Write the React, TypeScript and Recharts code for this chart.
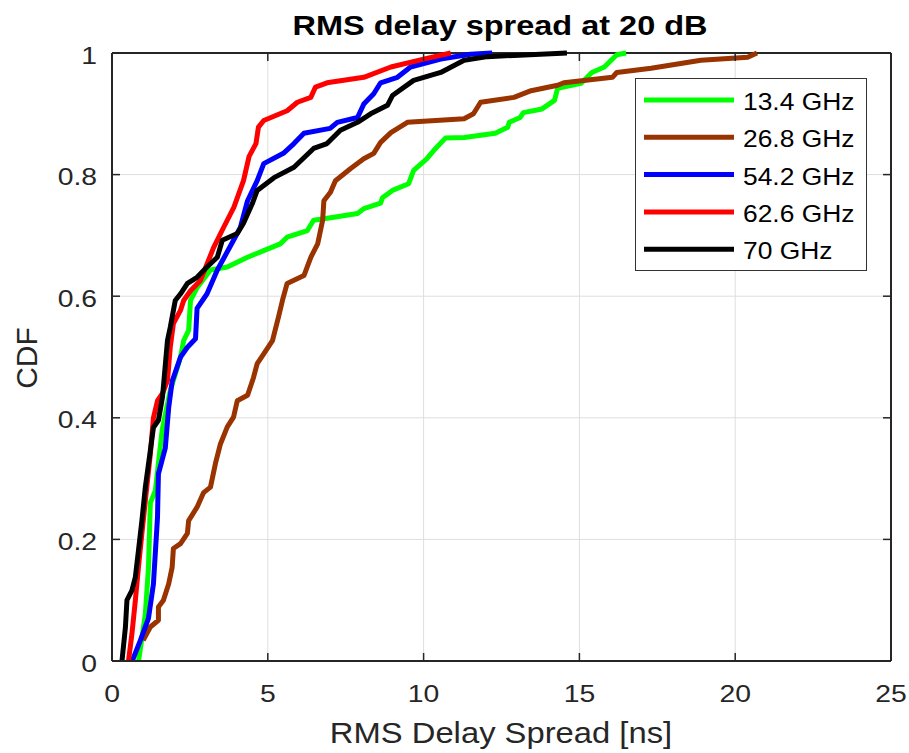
import React from 'react';
import {
  LineChart,
  Line,
  XAxis,
  YAxis,
  CartesianGrid,
  ReferenceLine,
  Legend,
} from 'recharts';

// RMS delay spread CDFs, one (x, y) list per carrier frequency
const ghz134X = [0.85, 0.91, 1.07, 1.17, 1.23, 1.39, 1.61, 1.87, 2.2, 2.3, 2.46, 2.52, 2.73, 3.16, 3.7, 4.35, 4.87, 5.4, 5.62, 6.27, 6.47, 7.12, 7.88, 8.08, 8.62, 8.68, 9.0, 9.52, 9.68, 10.1, 10.33, 10.7, 11.3, 12.3, 12.7, 12.75, 13.1, 13.2, 13.8, 14.2, 14.3, 15.05, 15.4, 15.8, 16.2, 16.5];
const ghz134Y = [0, 0.02, 0.077, 0.153, 0.26, 0.28, 0.38, 0.445, 0.5, 0.527, 0.544, 0.593, 0.614, 0.643, 0.648, 0.664, 0.675, 0.686, 0.697, 0.708, 0.725, 0.73, 0.736, 0.744, 0.753, 0.762, 0.774, 0.785, 0.807, 0.826, 0.84, 0.86, 0.861, 0.868, 0.878, 0.886, 0.894, 0.902, 0.908, 0.922, 0.942, 0.95, 0.968, 0.977, 0.997, 1.0];

const ghz268X = [1.0, 1.23, 1.49, 1.49, 1.65, 1.82, 1.93, 1.97, 2.2, 2.42, 2.46, 2.73, 2.94, 3.16, 3.32, 3.48, 3.7, 3.9, 4.02, 4.35, 4.54, 4.66, 4.87, 5.15, 5.34, 5.47, 5.62, 6.16, 6.38, 6.6, 6.76, 6.8, 7.01, 7.17, 7.66, 8.08, 8.4, 8.62, 8.95, 9.48, 11.3, 11.6, 11.83, 12.9, 13.45, 14.3, 14.5, 16.06, 16.2, 17.3, 18.9, 20.4, 20.7];
const ghz268Y = [0.034, 0.056, 0.067, 0.089, 0.1, 0.127, 0.154, 0.185, 0.193, 0.21, 0.231, 0.253, 0.277, 0.286, 0.325, 0.357, 0.385, 0.401, 0.428, 0.437, 0.466, 0.489, 0.505, 0.527, 0.565, 0.593, 0.621, 0.634, 0.664, 0.686, 0.725, 0.757, 0.771, 0.79, 0.81, 0.826, 0.835, 0.853, 0.869, 0.886, 0.892, 0.9, 0.919, 0.927, 0.938, 0.947, 0.951, 0.96, 0.968, 0.975, 0.988, 0.993, 1.0];

const ghz542X = [0.65, 0.91, 1.17, 1.33, 1.46, 1.49, 1.71, 1.82, 1.93, 2.2, 2.42, 2.68, 2.73, 3.05, 3.38, 3.9, 4.12, 4.35, 4.66, 4.87, 5.5, 5.84, 6.16, 7.0, 7.23, 7.88, 8.08, 8.4, 8.62, 9.16, 9.58, 10.55, 11.5, 12.2];
const ghz542Y = [0, 0.034, 0.07, 0.127, 0.236, 0.308, 0.35, 0.417, 0.46, 0.5, 0.516, 0.53, 0.58, 0.604, 0.643, 0.692, 0.713, 0.757, 0.79, 0.818, 0.835, 0.851, 0.868, 0.876, 0.886, 0.894, 0.916, 0.933, 0.951, 0.96, 0.977, 0.99, 0.998, 1.0];

const ghz626X = [0.53, 0.64, 0.75, 0.85, 0.96, 1.07, 1.23, 1.33, 1.46, 1.62, 1.78, 1.87, 1.97, 2.2, 2.3, 2.52, 2.84, 3.26, 3.58, 3.91, 4.22, 4.4, 4.62, 4.7, 4.87, 5.62, 5.95, 6.38, 6.53, 6.9, 8.08, 8.95, 10.0, 10.87];
const ghz626Y = [0, 0.045, 0.1, 0.155, 0.21, 0.264, 0.34, 0.4, 0.428, 0.44, 0.461, 0.516, 0.555, 0.577, 0.593, 0.609, 0.626, 0.68, 0.713, 0.746, 0.79, 0.83, 0.851, 0.878, 0.889, 0.905, 0.919, 0.927, 0.944, 0.951, 0.96, 0.977, 0.99, 1.0];

const ghz70X = [0.32, 0.43, 0.48, 0.64, 0.75, 0.85, 0.96, 1.07, 1.23, 1.33, 1.49, 1.62, 1.78, 1.87, 2.03, 2.2, 2.42, 2.73, 3.05, 3.38, 3.54, 4.02, 4.22, 4.5, 4.66, 5.2, 5.84, 6.47, 6.9, 7.33, 7.88, 8.3, 8.84, 9.0, 9.68, 10.55, 11.3, 12.05, 12.9, 14.6];
const ghz70Y = [0, 0.055, 0.1, 0.116, 0.138, 0.182, 0.231, 0.286, 0.346, 0.384, 0.396, 0.434, 0.527, 0.549, 0.593, 0.604, 0.621, 0.631, 0.648, 0.664, 0.692, 0.703, 0.72, 0.752, 0.774, 0.795, 0.812, 0.843, 0.851, 0.873, 0.886, 0.9, 0.914, 0.93, 0.955, 0.968, 0.988, 0.994, 0.996, 1.0];

const xTicks = [0, 5, 10, 15, 20, 25];
const yTicks = [0, 0.2, 0.4, 0.6, 0.8, 1];

const zip = (xs: number[], ys: number[]) => xs.map((x, i) => ({ x, y: ys[i] }));

const series = [
  { name: '13.4 GHz', color: '#00ff00', data: zip(ghz134X, ghz134Y) },
  { name: '26.8 GHz', color: '#993300', data: zip(ghz268X, ghz268Y) },
  { name: '54.2 GHz', color: '#0000ff', data: zip(ghz542X, ghz542Y) },
  { name: '62.6 GHz', color: '#ff0000', data: zip(ghz626X, ghz626Y) },
  { name: '70 GHz', color: '#000000', data: zip(ghz70X, ghz70Y) },
];

const W = 909;
const H = 753;
const PLOT_LEFT = 112;
const PLOT_TOP = 53;
const PLOT_RIGHT = 891;
const PLOT_BOTTOM = 661;
const AXIS = '#262626';
const FONT = '"Liberation Sans", Arial, sans-serif';
const TICK_LEN = 8;

const XTick = ({ x, payload }: any) => (
  <g>
    <line x1={x} x2={x} y1={PLOT_BOTTOM} y2={PLOT_BOTTOM - TICK_LEN} stroke={AXIS} strokeWidth={1.5} />
    <line x1={x} x2={x} y1={PLOT_TOP} y2={PLOT_TOP + TICK_LEN} stroke={AXIS} strokeWidth={1.5} />
    <text
      transform={`translate(${x},702) scale(1.18,1)`}
      textAnchor="middle"
      fontFamily={FONT}
      fontSize={24}
      fill={AXIS}
    >
      {payload.value}
    </text>
  </g>
);

const YTick = ({ y, payload }: any) => (
  <g>
    <line x1={PLOT_LEFT} x2={PLOT_LEFT + TICK_LEN} y1={y} y2={y} stroke={AXIS} strokeWidth={1.5} />
    <line x1={PLOT_RIGHT} x2={PLOT_RIGHT - TICK_LEN} y1={y} y2={y} stroke={AXIS} strokeWidth={1.5} />
    <text
      transform={`translate(97,${y + 10.5}) scale(1.18,1)`}
      textAnchor="end"
      fontFamily={FONT}
      fontSize={24}
      fill={AXIS}
    >
      {payload.value}
    </text>
  </g>
);

const renderLegend = () => {
  const rowGap = 37.3;
  return (
    <svg width={232} height={193} style={{ display: 'block' }}>
      <rect x={0.5} y={0.5} width={231} height={192} fill="#fff" stroke="#333" strokeWidth={1} />
      {series.map((s, i) => {
        const cy = 22 + i * rowGap;
        return (
          <g key={s.name}>
            <line x1={9} x2={99} y1={cy} y2={cy} stroke={s.color} strokeWidth={5} />
            <text
              transform={`translate(108,${cy + 10}) scale(1.1,1)`}
              fontFamily={FONT}
              fontSize={24}
              fill="#000"
            >
              {s.name}
            </text>
          </g>
        );
      })}
    </svg>
  );
};

export default function App() {
  return (
    <div style={{ position: 'absolute', left: 0, top: 0, width: W, height: H, background: '#fff' }}>
      <LineChart
        width={W}
        height={H}
        margin={{ top: PLOT_TOP, right: W - PLOT_RIGHT, left: 0, bottom: 0 }}
      >
        <CartesianGrid stroke="#dedede" strokeWidth={1} />
        <XAxis
          type="number"
          dataKey="x"
          domain={[0, 25]}
          ticks={xTicks}
          interval={0}
          height={H - PLOT_BOTTOM}
          tick={<XTick />}
          tickLine={false}
          axisLine={{ stroke: AXIS, strokeWidth: 2 }}
          label={{
            content: () => (
              <text
                transform={`translate(501,743) scale(1.13,1)`}
                textAnchor="middle"
                fontFamily={FONT}
                fontSize={29}
                fill={AXIS}
              >
                RMS Delay Spread [ns]
              </text>
            ),
          }}
        />
        <YAxis
          type="number"
          domain={[0, 1]}
          ticks={yTicks}
          interval={0}
          width={PLOT_LEFT}
          tick={<YTick />}
          tickLine={false}
          axisLine={{ stroke: AXIS, strokeWidth: 2 }}
          label={{
            content: () => (
              <text
                transform="translate(37,358) rotate(-90)"
                textAnchor="middle"
                fontFamily={FONT}
                fontSize={30}
                fill={AXIS}
              >
                CDF
              </text>
            ),
          }}
        />
        <ReferenceLine y={1} stroke={AXIS} strokeWidth={2} />
        <ReferenceLine x={25} stroke={AXIS} strokeWidth={2} />
        {series.map((s) => (
          <Line
            key={s.name}
            data={s.data}
            dataKey="y"
            name={s.name}
            type="linear"
            stroke={s.color}
            strokeWidth={5}
            strokeLinejoin="round"
            dot={false}
            activeDot={false}
            isAnimationActive={false}
          />
        ))}
        <Legend
          layout="vertical"
          align="center"
          verticalAlign="middle"
          content={renderLegend}
          wrapperStyle={{ position: 'absolute', left: 635, top: 78, width: 232, height: 193 }}
        />
      </LineChart>
      <svg
        width={W}
        height={60}
        style={{ position: 'absolute', left: 0, top: 0, pointerEvents: 'none' }}
      >
        <text
          transform="translate(500,35) scale(1.16,1)"
          textAnchor="middle"
          fontFamily={FONT}
          fontWeight="bold"
          fontSize={28}
          fill="#000"
        >
          RMS delay spread at 20 dB
        </text>
      </svg>
    </div>
  );
}
